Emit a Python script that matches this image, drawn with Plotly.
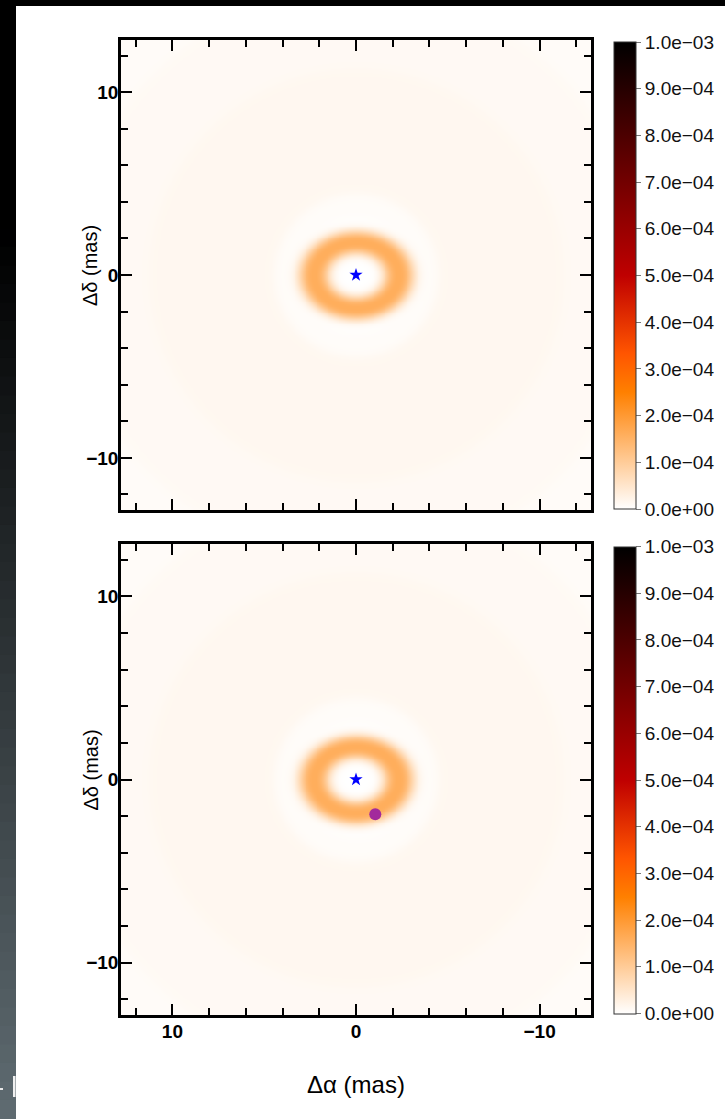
import numpy as np
import plotly.graph_objects as go

W, H = 725, 1119

# ---- image model parameters (mas, flux units) ----
ring_peak = 1.6e-4          # peak brightness of the inner ring
ring_axes = [2.3, 1.8]      # semi-axes of the ring (x, y)
ring_width = 0.28           # ring half-width in normalised radius
ring_shape = 2.6            # profile exponent (2 = gaussian)
halo_radii = [4.45, 11.3, 15.6]             # edges of the faint halo zones
halo_levels = [6e-6, 1.5e-5, 1.1e-5, 7e-6]  # level inside each zone
grid_step = 0.1
extent = 13.0

# ---- markers ----
star_pos = [0.0, 0.0]
companion_pos = [-1.05, -1.9]

# ---- colour bar ----
cb_vals = [0, 1e-4, 2e-4, 3e-4, 4e-4, 5e-4, 6e-4, 7e-4, 8e-4, 9e-4, 1e-3]
cb_text = ["0.0e+00", "1.0e\u221204", "2.0e\u221204", "3.0e\u221204", "4.0e\u221204",
           "5.0e\u221204", "6.0e\u221204", "7.0e\u221204", "8.0e\u221204", "9.0e\u221204",
           "1.0e\u221203"]

# axis ticks
major_ticks = [-10, 0, 10]
major_text = ["\u221210", "0", "10"]

# gist_heat reversed
heat_r = [
    [0.0, "rgb(255,255,255)"],
    [0.25, "rgb(255,128,0)"],
    [1 / 3, "rgb(255,85,0)"],
    [0.5, "rgb(191,0,0)"],
    [1.0, "rgb(0,0,0)"],
]

coords = np.arange(-extent, extent + 1e-9, grid_step)
X, Y = np.meshgrid(coords, coords)
rho = np.sqrt((X / ring_axes[0]) ** 2 + (Y / ring_axes[1]) ** 2)
ring = ring_peak * np.exp(-0.5 * np.abs((rho - 1.0) / ring_width) ** ring_shape)
r = np.hypot(X, Y)


def step(rr, r0, w=0.3):
    return 0.5 * (1 + np.tanh((rr - r0) / w))


halo = np.full_like(r, halo_levels[0])
for k, r0 in enumerate(halo_radii):
    halo += (halo_levels[k + 1] - halo_levels[k]) * step(r, r0)
# the centre inside the ring stays clear
halo *= step(r, 3.0, 0.4)
Z = ring + halo

# layout geometry in pixels
x0_px, x1_px = 121, 591
panels_px = [(40, 510), (544, 1015)]


def py(v):
    return 1 - v / H


fig = go.Figure()

for i, (top, bot) in enumerate(panels_px):
    n = "" if i == 0 else "2"
    cb_center = py((top + bot) / 2 + 0.5)
    fig.add_trace(go.Heatmap(
        x=coords, y=coords, z=Z, zmin=0, zmax=1e-3, colorscale=heat_r,
        zsmooth="best", xaxis="x" + n, yaxis="y" + n, hoverinfo="skip",
        colorbar=dict(
            x=614 / W, xanchor="left", y=cb_center, yanchor="middle",
            len=467, lenmode="pixels", thickness=22, thicknessmode="pixels",
            outlinewidth=1, outlinecolor="#333333",
            tickvals=cb_vals, ticktext=cb_text, ticks="outside", ticklen=5,
            tickcolor="#777777", tickwidth=1,
            tickfont=dict(family="Liberation Sans", size=19, color="#111111"),
            xpad=0, ypad=0,
        ),
    ))
    fig.add_trace(go.Scatter(
        x=[star_pos[0]], y=[star_pos[1]], mode="markers",
        marker=dict(symbol="star", size=10, color="#0000ff", line=dict(width=0)),
        xaxis="x" + n, yaxis="y" + n, showlegend=False, hoverinfo="skip",
    ))

fig.add_trace(go.Scatter(
    x=[companion_pos[0]], y=[companion_pos[1]], mode="markers",
    marker=dict(symbol="circle", size=12, color="#a22a9c", line=dict(width=0)),
    xaxis="x2", yaxis="y2", showlegend=False, hoverinfo="skip",
))

axis_common = dict(
    showline=True, linecolor="black", linewidth=2.5, mirror="ticks",
    ticks="inside", ticklen=11, tickwidth=2, tickcolor="black",
    tickvals=major_ticks, ticktext=major_text,
    minor=dict(ticks="inside", ticklen=7, tickwidth=2, tickcolor="black",
               dtick=2, tick0=0),
    showgrid=False, zeroline=False,
    tickfont=dict(family="Liberation Sans", size=19, color="black", weight="bold"),
    fixedrange=True,
)

layout = dict(
    width=W, height=H, margin=dict(l=0, r=0, t=0, b=0),
    paper_bgcolor="white", plot_bgcolor="white", showlegend=False,
)
for i, (top, bot) in enumerate(panels_px):
    n = "" if i == 0 else "2"
    layout["xaxis" + n] = dict(
        axis_common, domain=[x0_px / W, x1_px / W], range=[12.8, -12.8],
        anchor="y" + n, showticklabels=(i == 1), ticklabelstandoff=-3,
    )
    layout["yaxis" + n] = dict(
        axis_common, domain=[py(bot), py(top)], range=[-12.85, 12.85],
        anchor="x" + n, ticklabelstandoff=-4,
    )
fig.update_layout(**layout)

# axis titles
annotations = []
for top, bot in panels_px:
    annotations.append(dict(
        x=90 / W, y=py((top + bot) / 2 - 9), xref="paper", yref="paper",
        text="\u0394\u03b4 (mas)", textangle=-90, showarrow=False,
        font=dict(family="Liberation Sans", size=20, color="black"),
        xanchor="center", yanchor="middle",
    ))
annotations.append(dict(
    x=356 / W, y=py(1084), xref="paper", yref="paper",
    text="\u0394\u03b1 (mas)", showarrow=False,
    font=dict(family="Liberation Sans", size=24, color="black"),
    xanchor="center", yanchor="middle",
))
fig.update_layout(annotations=annotations)

# dark window border: black top strip and a shaded strip down the left edge
shapes = []
n_strips = 60
end_rgb = np.array([96, 108, 114])
for k in range(n_strips):
    ya, yb = 6 + (H - 6) * k / n_strips, 6 + (H - 6) * (k + 1) / n_strips
    ym = (ya + yb) / 2
    t = max(0.0, (ym - 230) / (H - 230))
    c = (end_rgb * t).astype(int)
    shapes.append(dict(type="rect", xref="paper", yref="paper", x0=0, x1=16 / W,
                       y0=py(yb + 2), y1=py(ya - 0.5),
                       fillcolor=f"rgb({c[0]},{c[1]},{c[2]})",
                       line=dict(width=0), layer="above"))
shapes.append(dict(type="rect", xref="paper", yref="paper", x0=0, x1=1,
                   y0=py(6), y1=1, fillcolor="black", line=dict(width=0), layer="above"))
# small light marks near the bottom-left corner of the strip
shapes.append(dict(type="rect", xref="paper", yref="paper", x0=0, x1=3 / W,
                   y0=py(1090), y1=py(1088), fillcolor="#e8e8e8", line=dict(width=0), layer="above"))
shapes.append(dict(type="rect", xref="paper", yref="paper", x0=13 / W, x1=15.5 / W,
                   y0=py(1097), y1=py(1076), fillcolor="#f0f0f0", line=dict(width=0), layer="above"))
fig.update_layout(shapes=shapes)

fig.write_html("out.html")
